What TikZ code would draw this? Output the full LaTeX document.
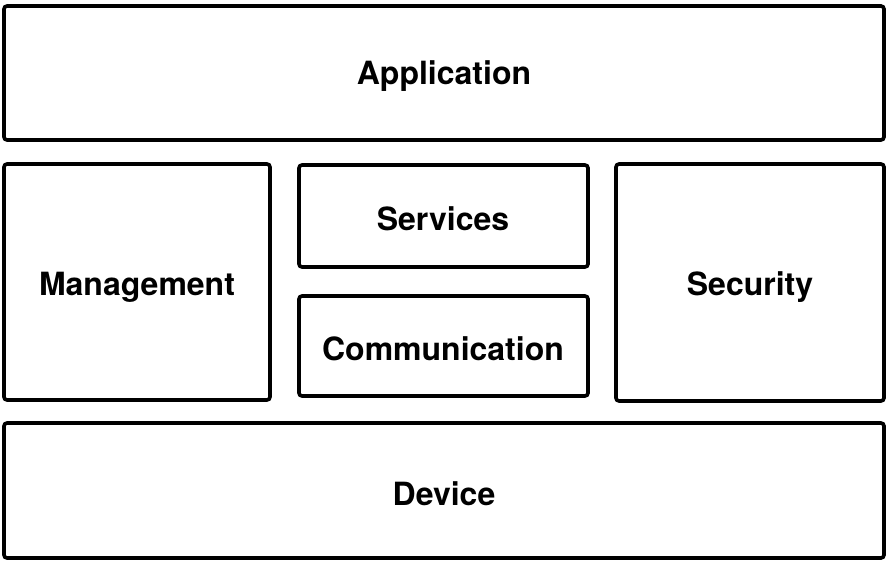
\documentclass[tikz,border=0pt]{standalone}
\usepackage{fontspec}
\setmainfont{TeX Gyre Heros}
\begin{document}
\begin{tikzpicture}[x=1pt,y=1pt,
  layer/.style={draw=black, line width=3.6pt, rounded corners=3pt, fill=white},
  lbl/.style={font=\fontsize{32}{37}\selectfont\bfseries, inner sep=0pt}]
\useasboundingbox (0,0) rectangle (888,563);
% y_tikz = 563 - y_image
\draw[layer] (4,557) rectangle (884,423);
\node[lbl] (app) at (444,487) {Application};
\draw[layer] (4,399) rectangle (270,163);
\node[lbl] (mgmt) at (137,276) {Management};
\draw[layer] (299,398) rectangle (588,296);
\node[lbl] (serv) at (443,344) {Services};
\draw[layer] (299,267) rectangle (588,167);
\node[lbl] (comm) at (443,214) {Communication};
\draw[layer] (616,399) rectangle (884,162);
\node[lbl] (sec) at (750,276) {Security};
\draw[layer] (4,140) rectangle (884,5);
\node[lbl] (dev) at (444,69) {Device};
\end{tikzpicture}
\end{document}
